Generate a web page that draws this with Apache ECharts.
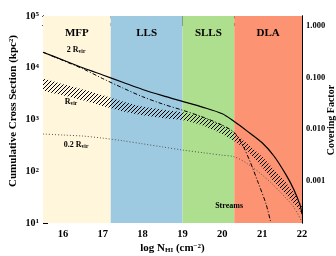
<!DOCTYPE html>
<html><head><meta charset="utf-8">
<script src="https://cdn.jsdelivr.net/npm/echarts@6/dist/echarts.min.js"></script>
<style>html,body{margin:0;padding:0;background:#fff}#c{width:336px;height:256px}</style>
</head><body><div id="c"></div>
<script>
// ---- data ----
const xTicks = [16, 17, 18, 19, 20, 21, 22];
const yTickExp = [1, 2, 3, 4, 5];               // 10^1 .. 10^5 kpc^2
const coverTicks = [0.001, 0.01, 0.1, 1];
const coverLabels = ['0.001', '0.010', '0.100', '1.000'];
const bandNames = ['MFP', 'LLS', 'SLLS', 'DLA'];
const bandFrom = [15.5, 17.2, 19.0, 20.3];
const bandTo = [17.2, 19.0, 20.3, 22.0];
const bandColors = ['#fff6dc', '#9ecae1', '#addf8e', '#fc9373'];

// log10 of cumulative cross section (kpc^2)
const nhiSolid = [15.5, 16, 16.5, 17, 17.5, 18, 18.5, 19, 19.5, 20, 20.3, 20.6, 21, 21.3, 21.6, 21.8, 21.95, 22];
const logSolid2Rvir = [4.30, 4.15, 4.00, 3.86, 3.72, 3.58, 3.46, 3.35, 3.24, 3.11, 2.96, 2.79, 2.55, 2.29, 1.93, 1.64, 1.35, 1.17];
const nhiDash = [15.5, 16, 16.5, 17, 17.5, 18, 18.5, 19, 19.5, 20, 20.3, 20.5, 20.7, 20.9, 21.1, 21.22];
const logDash2Rvir = [4.30, 4.14, 3.98, 3.79, 3.61, 3.44, 3.30, 3.18, 3.05, 2.89, 2.75, 2.52, 2.18, 1.78, 1.36, 1.0];
const nhiBand = [15.5, 16, 16.5, 17, 17.5, 18, 18.5, 19, 19.5, 20, 20.3, 20.6, 21, 21.3, 21.6, 21.8, 22];
const logBandLowRvir = [3.57, 3.47, 3.37, 3.26, 3.16, 3.08, 3.03, 2.99, 2.89, 2.72, 2.58, 2.42, 2.08, 1.80, 1.55, 1.38, 1.19];
const logBandHighRvir = [3.78, 3.68, 3.58, 3.47, 3.35, 3.25, 3.19, 3.14, 3.05, 2.89, 2.74, 2.55, 2.28, 2.03, 1.78, 1.58, 1.31];
const nhiDot = [15.5, 16, 16.5, 17, 17.5, 18, 18.5, 19, 19.5, 20, 20.3, 20.6, 21, 21.3, 21.6, 21.8, 22];
const logDot02Rvir = [2.72, 2.70, 2.68, 2.64, 2.59, 2.53, 2.47, 2.41, 2.36, 2.31, 2.28, 2.16, 1.93, 1.72, 1.48, 1.30, 1.02];
const coverOffset = 4.815; // log10(cross section) - log10(covering factor)

// ---- build ----
const X0 = 15.5, X1 = 22, Y0 = 1, Y1 = 5;
const FONT = 'Liberation Serif';
const minorX = [];
for (let i = 155; i <= 220; i++) { if (i % 10 !== 0) minorX.push(i / 10); }
const minorY = [];
for (let n = 1; n < 5; n++) for (let k = 2; k <= 9; k++) minorY.push(n + Math.log10(k));
const coverMin = Y0 - coverOffset, coverMax = Y1 - coverOffset;
const coverMajor = coverTicks.map(v => Math.log10(v));
const minorC = [];
for (let n = -4; n <= 0; n++) for (let k = 2; k <= 9; k++) { const v = n + Math.log10(k); if (v > coverMin && v < coverMax) minorC.push(v); }

const pc = document.createElement('canvas'); pc.width = 4; pc.height = 4;
const g = pc.getContext('2d'); g.strokeStyle = '#000'; g.lineWidth = 1.0;
g.beginPath(); g.moveTo(0, 4); g.lineTo(4, 0); g.moveTo(-1, 1); g.lineTo(1, -1); g.moveTo(3, 5); g.lineTo(5, 3); g.stroke();

const xAx = (pos, ticks, len, labels) => ({
  type: 'value', min: X0, max: X1, position: pos,
  axisLine: { show: true, lineStyle: { color: '#000', width: 1 } },
  splitLine: { show: false },
  axisTick: { show: true, inside: true, length: len, customValues: ticks, lineStyle: { color: '#000' } },
  axisLabel: labels ? { show: true, customValues: xTicks, margin: 6, color: '#000', fontFamily: FONT, fontWeight: 'bold', fontSize: 10.5 } : { show: false }
});
const yAx = (pos, min, max, ticks, len, label) => ({
  type: 'value', min: min, max: max, position: pos,
  axisLine: { show: true, lineStyle: { color: '#000', width: 1 } },
  splitLine: { show: false },
  axisTick: { show: true, inside: true, length: len, customValues: ticks, lineStyle: { color: '#000' } },
  axisLabel: label || { show: false }
});

const subRich = {
  b: { fontFamily: FONT, fontWeight: 'bold', fontSize: 8, color: '#000' },
  s: { fontFamily: FONT, fontWeight: 'bold', fontSize: 5.5, color: '#000', verticalAlign: 'bottom', padding: [3, 0, 0, 0] }
};
const txtPoint = (x, y, text) => ({ coord: [x, y], symbol: 'circle', symbolSize: 0, label: { show: true, position: 'inside', formatter: text, rich: subRich } });

const option = {
  animation: false,
  backgroundColor: '#fff',
  grid: { left: 43, right: 34, top: 16, bottom: 33, containLabel: false, outerBoundsMode: 'none' },
  xAxis: [
    Object.assign(xAx('bottom', xTicks, 5, true), {
      name: '{a|log N}{s|HI}{a| (cm}{p|−2}{a|)}', nameLocation: 'middle', nameGap: 20, nameMoveOverlap: false,
      nameTextStyle: { rich: {
        a: { fontFamily: FONT, fontWeight: 'bold', fontSize: 11, color: '#000' },
        s: { fontFamily: FONT, fontWeight: 'bold', fontSize: 7, color: '#000', verticalAlign: 'bottom', padding: [4, 0, 0, 0] },
        p: { fontFamily: FONT, fontWeight: 'bold', fontSize: 7, color: '#000', verticalAlign: 'top' } } }
    }),
    xAx('bottom', minorX, 2.5, false),
    xAx('top', xTicks, 5, false),
    xAx('top', minorX, 2.5, false)
  ],
  yAxis: [
    yAx('left', Y0, Y1, yTickExp, 5, {
      show: true, customValues: yTickExp, margin: 4,
      formatter: v => '{b|10}{p|' + Math.round(v) + '}',
      rich: { b: { fontFamily: FONT, fontWeight: 'bold', fontSize: 10, color: '#000' },
              p: { fontFamily: FONT, fontWeight: 'bold', fontSize: 7, color: '#000', verticalAlign: 'top' } }
    }),
    yAx('left', Y0, Y1, minorY, 2.5),
    yAx('right', coverMin, coverMax, coverMajor, 5, {
      show: true, customValues: coverMajor, margin: 4,
      formatter: v => coverLabels[coverMajor.findIndex(c => Math.abs(c - v) < 1e-6)],
      fontFamily: FONT, fontWeight: 'bold', fontSize: 8.5, color: '#000'
    }),
    yAx('right', coverMin, coverMax, minorC, 2.5)
  ],
  graphic: [{
    type: 'text', x: 13, y: 111, rotation: Math.PI / 2,
    style: { text: 'Cumulative Cross Section (kpc²)', font: 'bold 11px "Liberation Serif"', fill: '#000', align: 'center', verticalAlign: 'middle' }
  }, {
    type: 'text', x: 331.5, y: 120, rotation: Math.PI / 2,
    style: { text: 'Covering Factor', font: 'bold 10px "Liberation Serif"', fill: '#000', align: 'center', verticalAlign: 'middle' }
  }],
  series: [
    { type: 'line', name: 'bands', data: [], z: 1, silent: true,
      markArea: { silent: true,
        label: { show: true, position: 'insideTop', distance: 12, color: '#000', fontFamily: FONT, fontWeight: 'bold', fontSize: 11 },
        data: bandNames.map((n, i) => [{ name: n, xAxis: bandFrom[i], itemStyle: { color: bandColors[i], opacity: 1 } }, { xAxis: bandTo[i] }]) } },
    { type: 'custom', name: 'Rvir band', z: 3, silent: true, clip: true,
      data: nhiBand.map((x, i) => [x, logBandLowRvir[i], logBandHighRvir[i]]),
      renderItem: (params, api) => {
        if (params.dataIndex !== 0) return null;
        const up = nhiBand.map((x, i) => api.coord([x, logBandHighRvir[i]]));
        const lo = nhiBand.map((x, i) => api.coord([x, logBandLowRvir[i]])).reverse();
        return { type: 'polygon', shape: { points: up.concat(lo), smooth: 0.2 },
                 style: { fill: { image: pc, repeat: 'repeat' }, stroke: null } };
      },
      markPoint: { silent: true, data: [txtPoint(16.2, 3.34, '{b|R}{s|vir}')] } },
    { type: 'line', name: '0.2 Rvir', z: 4, data: nhiDot.map((x, i) => [x, logDot02Rvir[i]]), showSymbol: false, smooth: 0.3,
      lineStyle: { color: '#555', width: 1, type: [1, 2] },
      markPoint: { silent: true, data: [txtPoint(16.33, 2.51, '{b|0.2 R}{s|vir}')] } },
    { type: 'line', name: '2 Rvir streams', z: 4, data: nhiDash.map((x, i) => [x, logDash2Rvir[i]]), showSymbol: false, smooth: 0.3,
      lineStyle: { color: '#000', width: 1, type: [4, 2, 1, 2] },
      markPoint: { silent: true, data: [txtPoint(20.17, 1.33, '{b|Streams}')] } },
    { type: 'line', name: '2 Rvir', z: 5, data: nhiSolid.map((x, i) => [x, logSolid2Rvir[i]]), showSymbol: false, smooth: 0.3,
      lineStyle: { color: '#000', width: 1.2 },
      markPoint: { silent: true, data: [txtPoint(16.33, 4.34, '{b|2 R}{s|vir}')] } }
  ]
};
const chart = echarts.init(document.getElementById('c'), null, { renderer: 'canvas' });
chart.setOption(option);
</script></body></html>
